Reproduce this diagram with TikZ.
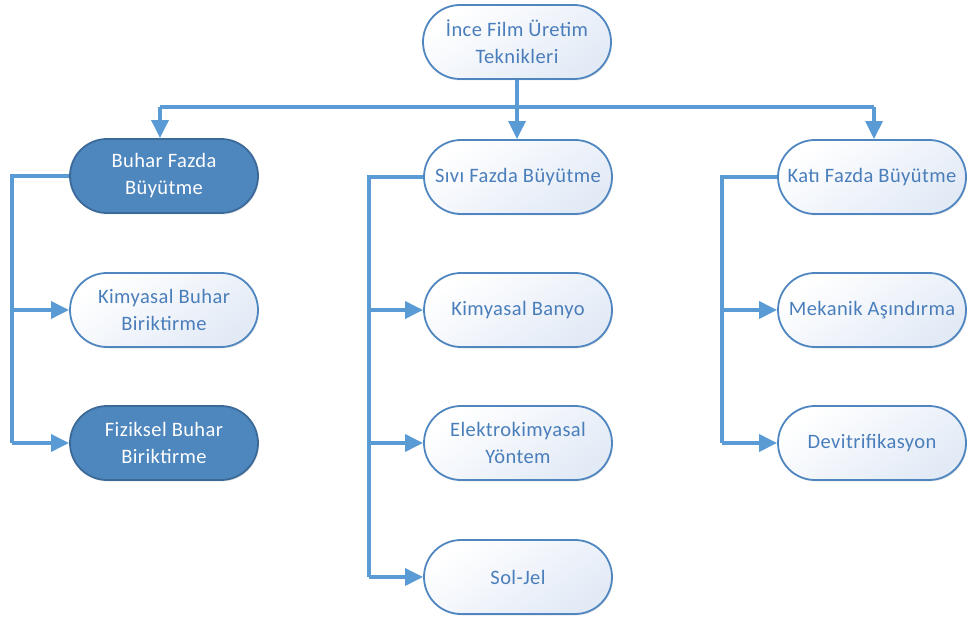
\documentclass[tikz,border=0pt]{standalone}
\usepackage{fontspec}
\setmainfont{Carlito}[LetterSpace=2]
\usetikzlibrary{arrows.meta,shadows}
\definecolor{conn}{HTML}{5B9BD5}
\definecolor{lborder}{HTML}{4F86C0}
\definecolor{ltext}{HTML}{4A7EBB}
\definecolor{lfill}{HTML}{E2EAF6}
\definecolor{dfill}{HTML}{4E86BE}
\definecolor{dborder}{HTML}{3C6A98}
\tikzset{
  box/.style={rounded corners=37pt, minimum width=188pt, minimum height=74pt,
    align=center, font=\fontsize{20.5}{27}\selectfont, line width=1.8pt, inner xsep=2pt,
    drop shadow={shadow xshift=1pt, shadow yshift=-1.5pt, opacity=0.18}},
  lightbox/.style={box, draw=lborder, text=ltext, top color=white, bottom color=lfill, shading angle=35},
  darkbox/.style={box, draw=dborder, fill=dfill, text=white},
  link/.style={draw=conn, line width=3.2pt},
  arr/.style={link, -{Triangle[length=18pt,width=17pt]}}
}
\begin{document}
\begin{tikzpicture}[x=1pt,y=-1pt]
\useasboundingbox (0,0) rectangle (968,617);
\node[lightbox] (top) at (517,42) {İnce Film Üretim\\Teknikleri};
\node[darkbox] (buhar) at (164,176) {Buhar Fazda\\Büyütme};
\node[lightbox] (sivi) at (518,177) {Sıvı Fazda Büyütme};
\node[lightbox] (kati) at (872,177) {Katı Fazda Büyütme};
\node[lightbox] (kbuhar) at (164,310) {Kimyasal Buhar\\Biriktirme};
\node[darkbox] (fbuhar) at (164,443) {Fiziksel Buhar\\Biriktirme};
\node[lightbox] (banyo) at (518,310) {Kimyasal Banyo};
\node[lightbox] (elektro) at (518,443) {Elektrokimyasal\\Yöntem};
\node[lightbox] (soljel) at (518,577) {Sol-Jel};
\node[lightbox] (mekanik) at (872,310) {Mekanik Aşındırma};
\node[lightbox] (devit) at (872,443) {Devitrifikasyon};
% top bus
\coordinate (busl) at (160,107);
\coordinate (busr) at (874,107);
\draw[link] (top.south) -- (top.south |- busl);
\draw[link] (busl) -- (busr);
\draw[arr] (busl) -- (busl |- buhar.north);
\draw[arr] (top.south |- busl) -- (top.south |- sivi.north);
\draw[arr] (busr) -- (busr |- kati.north);
% left column
\coordinate (lb) at (12,176);
\draw[link] (buhar.west) -- (lb) -- (lb |- fbuhar.west);
\draw[arr] (lb |- kbuhar.west) -- (kbuhar.west);
\draw[arr] (lb |- fbuhar.west) -- (fbuhar.west);
% middle column
\coordinate (mb) at (369,177);
\draw[link] (sivi.west) -- (mb) -- (mb |- soljel.west);
\draw[arr] (mb |- banyo.west) -- (banyo.west);
\draw[arr] (mb |- elektro.west) -- (elektro.west);
\draw[arr] (mb |- soljel.west) -- (soljel.west);
% right column
\coordinate (rb) at (722,177);
\draw[link] (kati.west) -- (rb) -- (rb |- devit.west);
\draw[arr] (rb |- mekanik.west) -- (mekanik.west);
\draw[arr] (rb |- devit.west) -- (devit.west);
\end{tikzpicture}
\end{document}
